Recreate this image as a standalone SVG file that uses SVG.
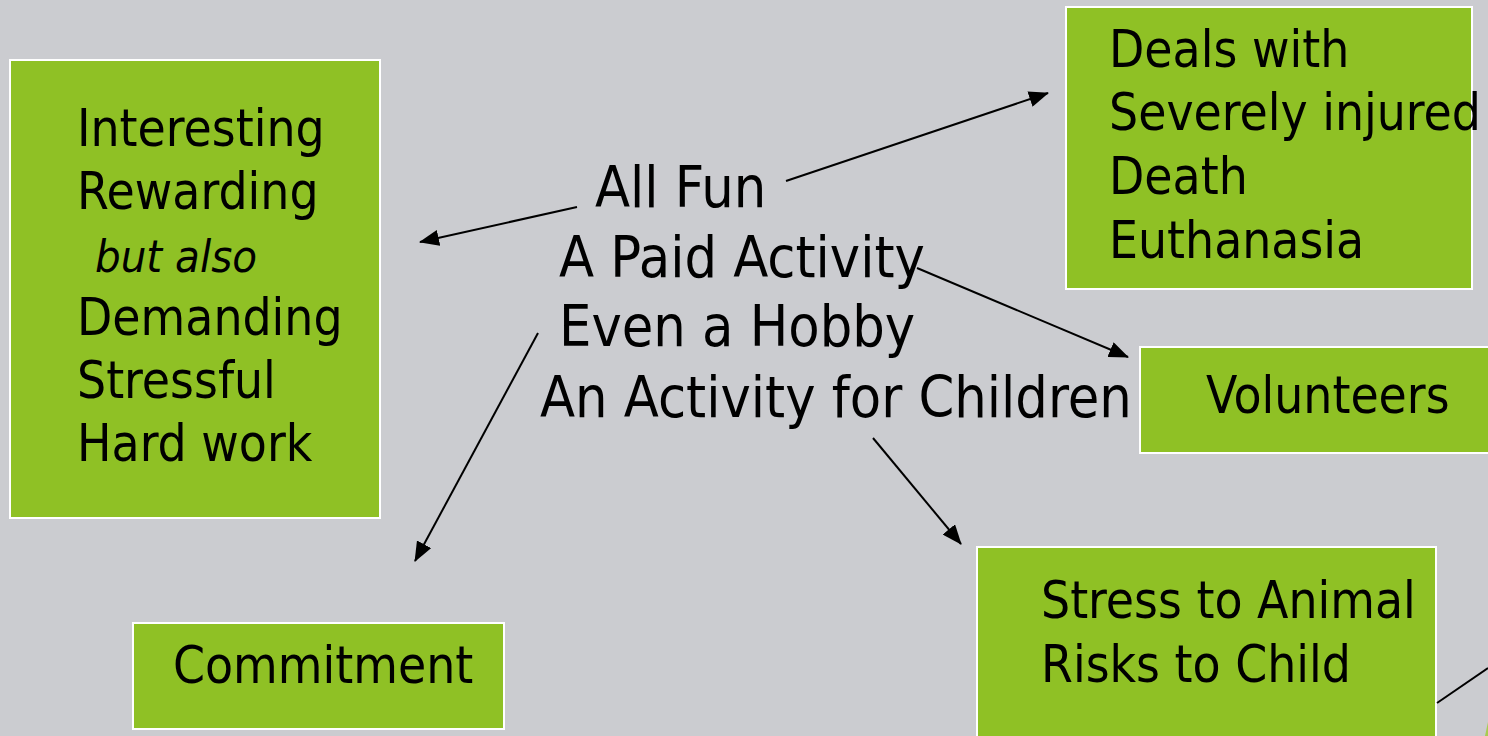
<svg xmlns="http://www.w3.org/2000/svg" width="1488" height="736" viewBox="0 0 1488 736">
<style>
.box{fill:#8FC125;stroke:#FFFFFF;stroke-width:2}
.t{font-family:"DejaVu Sans Condensed","DejaVu Sans",sans-serif;font-stretch:condensed;fill:#000}
.b{font-size:51px}
.c{font-size:57px}
.conn{stroke:#000;stroke-width:2;fill:none;marker-end:url(#ah)}
</style>
<defs>
<marker id="ah" markerUnits="userSpaceOnUse" markerWidth="20" markerHeight="16" refX="19" refY="8" orient="auto">
<path d="M0,0 L20,8 L0,16 z" fill="#000"/>
</marker>
</defs>
<rect x="0" y="0" width="1488" height="736" fill="#CBCCD0"/>
<g id="box-left">
<rect class="box" x="10" y="60" width="370" height="458"/>
<text class="t b" x="77" y="146">Interesting</text>
<text class="t b" x="77" y="209">Rewarding</text>
<text class="t" x="95" y="272" font-size="45" font-style="italic">but also</text>
<text class="t b" x="77" y="335">Demanding</text>
<text class="t b" x="77" y="398">Stressful</text>
<text class="t b" x="77" y="461">Hard work</text>
</g>
<g id="box-deals">
<rect class="box" x="1066" y="7" width="406" height="282"/>
<text class="t b" x="1109" y="67">Deals with</text>
<text class="t b" x="1109" y="130">Severely injured</text>
<text class="t b" x="1109" y="194">Death</text>
<text class="t b" x="1109" y="258">Euthanasia</text>
</g>
<g id="box-volunteers">
<rect class="box" x="1140" y="347" width="360" height="106"/>
<text class="t b" x="1206" y="413">Volunteers</text>
</g>
<g id="box-commitment">
<rect class="box" x="133" y="623" width="371" height="106"/>
<text class="t b" x="173" y="683">Commitment</text>
</g>
<g id="box-stress">
<rect class="box" x="977" y="547" width="459" height="200"/>
<text class="t b" x="1041" y="618">Stress to Animal</text>
<text class="t b" x="1041" y="682">Risks to Child</text>
</g>
<g id="center">
<text class="t c" x="595" y="207">All Fun</text>
<text class="t c" x="559" y="277">A Paid Activity</text>
<text class="t c" x="559" y="346">Even a Hobby</text>
<text class="t c" x="540" y="417">An Activity for Children</text>
</g>
<g id="connectors">
<line class="conn" x1="577" y1="207" x2="420" y2="242"/>
<line class="conn" x1="786" y1="181" x2="1048" y2="93"/>
<line class="conn" x1="917" y1="268" x2="1128" y2="357"/>
<line class="conn" x1="538" y1="333" x2="415" y2="561"/>
<line class="conn" x1="873" y1="438" x2="961" y2="544"/>
<line x1="1437" y1="703" x2="1488" y2="668" stroke="#000" stroke-width="2"/>
</g>
<polygon points="1485,736 1488,722 1488,736" fill="#A8CC50"/>
</svg>
